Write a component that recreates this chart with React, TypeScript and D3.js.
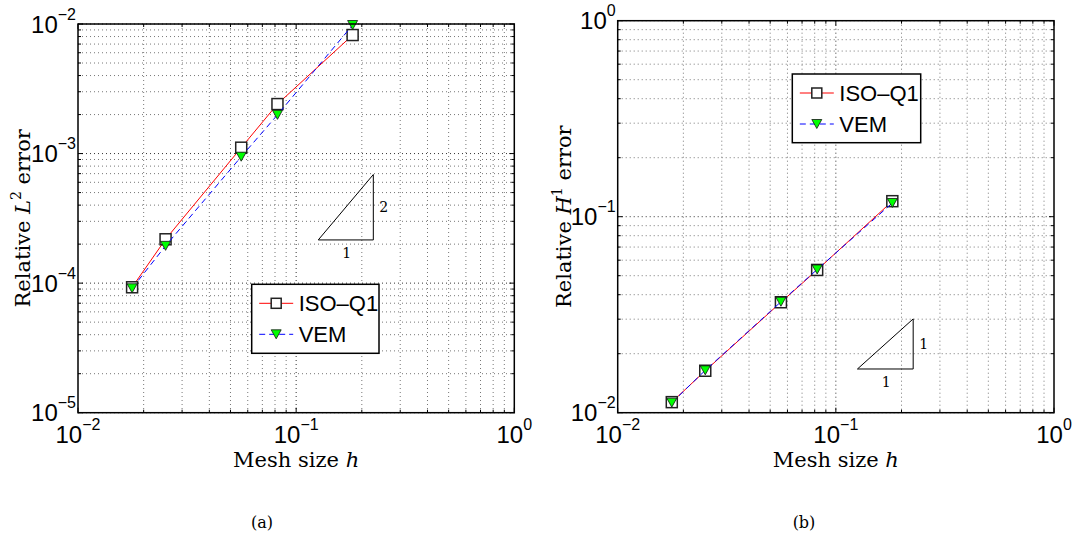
import React from "react";
import * as d3 from "d3";

// ---------- data ----------
const MESH_SIZE = [0.0177, 0.0252, 0.056, 0.0821, 0.1815];
const L2_ISO = [9.29e-5, 2.18e-4, 1.11e-3, 2.41e-3, 8.22e-3];
const L2_VEM = [9.12e-5, 1.94e-4, 9.46e-4, 1.99e-3, 9.82e-3];
const H1_ISO = [0.01132, 0.01637, 0.0366, 0.0535, 0.12];
const H1_VEM = [0.01125, 0.01645, 0.0368, 0.0538, 0.1175];
const SERIES_NAMES = ["ISO\u2013Q1", "VEM"];
const X_TICKS = [1e-2, 1e-1, 1e0];
const L2_TICKS = [1e-5, 1e-4, 1e-3, 1e-2];
const H1_TICKS = [1e-2, 1e-1, 1e0];
// slope triangles: [x start, x end, y at base, slope]
const L2_SLOPE = [0.1263, 0.2258, 2.155e-4, 2];
const H1_SLOPE = [0.1256, 0.2262, 0.01671, 1];

const W = 1074;
const H = 540;
const SANS = "'Liberation Sans', Arial, Helvetica, sans-serif";
const SERIF = "'DejaVu Serif', 'Liberation Serif', serif";

function expLabel(v: number) {
  const e = Math.round(Math.log10(v));
  return e < 0 ? "\u2212" + Math.abs(e) : String(e);
}

function gridValues(domain: number[]) {
  const out: { v: number; major: boolean }[] = [];
  const lo = Math.floor(Math.log10(domain[0]));
  const hi = Math.ceil(Math.log10(domain[1]));
  for (let d = lo; d <= hi; d++) {
    for (let k = 1; k <= 9; k++) {
      const v = k * Math.pow(10, d);
      if (v >= domain[0] * 0.9999 && v <= domain[1] * 1.0001) out.push({ v, major: k === 1 });
    }
  }
  return out;
}

function Square({ cx, cy, s = 11 }: any) {
  return (
    <rect x={cx - s / 2} y={cy - s / 2} width={s} height={s} fill="#fff" stroke="#222" strokeWidth={1.5} />
  );
}
function Tri({ cx, cy, s = 10 }: any) {
  const h = s * 0.9;
  const p = `${cx - s / 2},${cy - h / 2} ${cx + s / 2},${cy - h / 2} ${cx},${cy + h / 2}`;
  return <polygon points={p} fill="#00ff00" stroke="#111" strokeWidth={0.8} />;
}

function Panel(props: any) {
  const { left, right, top, bottom, yDomain, yTicks, iso, vem, ySym, ySup, yLabelX, legend, slope, caption, captionX } = props;
  const x = d3.scaleLog().domain([1e-2, 1]).range([left, right]);
  const y = d3.scaleLog().domain(yDomain).range([bottom, top]);
  const xg = gridValues([1e-2, 1]);
  const yg = gridValues(yDomain);
  const line = d3
    .line<number>()
    .x((_, i) => x(MESH_SIZE[i]))
    .y((d) => y(d));

  const [sx0, sx1, sy0, sk] = slope;
  const sy1 = sy0 * Math.pow(sx1 / sx0, sk);
  const tx0 = x(sx0), tx1 = x(sx1), ty0 = y(sy0), ty1 = y(sy1);

  return (
    <g>
      {/* grid */}
      {xg.map((g, i) =>
        g.major && (g.v === 1e-2 || g.v === 1) ? null : (
          <line key={"gx" + i} x1={x(g.v)} x2={x(g.v)} y1={top} y2={bottom}
            stroke={g.major ? "#333" : "#777"} strokeWidth={1} strokeDasharray="1,3" />
        )
      )}
      {yg.map((g, i) => (
        <line key={"gy" + i} x1={left} x2={right} y1={y(g.v)} y2={y(g.v)}
          stroke={g.major ? "#333" : "#777"} strokeWidth={1} strokeDasharray="1,3" />
      ))}
      {/* ticks */}
      {xg.map((g, i) => {
        const L = g.major ? 5 : 3;
        return (
          <g key={"tx" + i}>
            <line x1={x(g.v)} x2={x(g.v)} y1={bottom} y2={bottom - L} stroke="#000" />
            <line x1={x(g.v)} x2={x(g.v)} y1={top} y2={top + L} stroke="#000" />
          </g>
        );
      })}
      {yg.map((g, i) => {
        const L = g.major ? 5 : 3;
        return (
          <g key={"ty" + i}>
            <line x1={left} x2={left + L} y1={y(g.v)} y2={y(g.v)} stroke="#000" />
            <line x1={right} x2={right - L} y1={y(g.v)} y2={y(g.v)} stroke="#000" />
          </g>
        );
      })}
      {/* slope triangle */}
      <polygon points={`${tx0},${ty0} ${tx1},${ty0} ${tx1},${ty1}`} fill="none" stroke="#000" strokeWidth={1} />
      <text x={tx1 + 6} y={(ty0 + ty1) / 2 + 5} fontFamily={SERIF} fontSize={14}>{String(sk)}</text>
      <text x={(tx0 + tx1) / 2 + 1} y={ty0 + 18} fontFamily={SERIF} fontSize={14} textAnchor="middle">1</text>
      {/* series */}
      <path d={line(iso) || ""} fill="none" stroke="#ff0000" strokeWidth={1} />
      {iso.map((v: number, i: number) => (
        <Square key={"s" + i} cx={x(MESH_SIZE[i])} cy={y(v)} />
      ))}
      <path d={line(vem) || ""} fill="none" stroke="#0000ff" strokeWidth={1} strokeDasharray="6,4" />
      {vem.map((v: number, i: number) => (
        <Tri key={"t" + i} cx={x(MESH_SIZE[i])} cy={y(v)} />
      ))}
      {/* axes box */}
      <rect x={left} y={top} width={right - left} height={bottom - top} fill="none" stroke="#000" strokeWidth={1.5} />
      {/* tick labels */}
      {X_TICKS.map((v, i) => (
        <text key={"xl" + i} x={x(v)} y={bottom + 30} fontFamily={SANS} fontSize={24} textAnchor="middle" fill="#000">
          10<tspan dy={-13} fontSize={16}>{expLabel(v)}</tspan>
        </text>
      ))}
      {yTicks.map((v: number, i: number) => (
        <text key={"yl" + i} x={left - 2} y={y(v) + 8.5} fontFamily={SANS} fontSize={24} textAnchor="end" fill="#000">
          10<tspan dy={-13} fontSize={16}>{expLabel(v)}</tspan>
        </text>
      ))}
      {/* axis titles */}
      <text x={(left + right) / 2} y={467} fontFamily={SERIF} fontSize={21} textAnchor="middle">
        Mesh size <tspan fontStyle="italic">h</tspan>
      </text>
      <text transform={`translate(${yLabelX},${(top + bottom) / 2}) rotate(-90)`} fontFamily={SERIF} fontSize={21} textAnchor="middle">
        Relative <tspan fontStyle="italic">{ySym}</tspan>
        <tspan dy={-9} fontSize={14}>{ySup}</tspan>
        <tspan dy={9}> error</tspan>
      </text>
      {/* legend */}
      <rect x={legend.x} y={legend.y} width={legend.w} height={legend.h} fill="#fff" stroke="#000" strokeWidth={1.5} />
      {SERIES_NAMES.map((name, i) => {
        const ry = legend.y + (i === 0 ? 19 : 50);
        const lx0 = legend.x + 7.5, lx1 = legend.x + 41.5, mx = legend.x + 24.5;
        return (
          <g key={"lg" + i}>
            <line x1={lx0} x2={lx1} y1={ry} y2={ry} stroke={i === 0 ? "#ff0000" : "#0000ff"}
              strokeWidth={1} strokeDasharray={i === 0 ? undefined : "6,4"} />
            {i === 0 ? <Square cx={mx} cy={ry} s={10} /> : <Tri cx={mx} cy={ry} s={10} />}
            <text x={legend.x + 47} y={ry + 8} fontFamily={SANS} fontSize={22} fill="#000">{name}</text>
          </g>
        );
      })}
      {/* caption */}
      <text x={captionX} y={528} fontFamily={SERIF} fontSize={16} textAnchor="middle">{caption}</text>
    </g>
  );
}

export default function App() {
  return (
    <svg width={W} height={H} style={{ position: "absolute", left: 0, top: 0, background: "#fff" }}>
      <rect x={0} y={0} width={W} height={H} fill="#fff" />
      <Panel left={78} right={514.3} top={24} bottom={412.7} yDomain={[1e-5, 1e-2]} yTicks={L2_TICKS}
        iso={L2_ISO} vem={L2_VEM} ySym="L" ySup="2" yLabelX={30}
        legend={{ x: 251.7, y: 284.3, w: 127.3, h: 69 }} slope={L2_SLOPE} caption="(a)" captionX={262} />
      <Panel left={617.7} right={1054} top={20.7} bottom={412.7} yDomain={[1e-2, 1]} yTicks={H1_TICKS}
        iso={H1_ISO} vem={H1_VEM} ySym="H" ySup="1" yLabelX={571}
        legend={{ x: 792.3, y: 74, w: 128.4, h: 68.7 }} slope={H1_SLOPE} caption="(b)" captionX={804} />
    </svg>
  );
}
